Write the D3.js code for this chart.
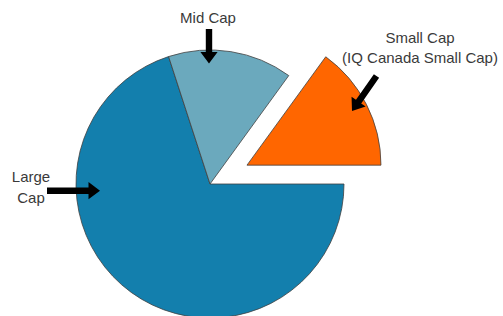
<!DOCTYPE html>
<html><head><meta charset="utf-8">
<script src="https://cdn.jsdelivr.net/npm/d3@7"></script>
<style>html,body{margin:0;padding:0;background:#fff;}svg{display:block;}</style>
</head><body>
<script>
const categories = ["Large Cap", "Mid Cap", "Small Cap"];
const values = [70, 15, 15];
const colors = ["#137FAD", "#6BA9BD", "#FF6600"];
const exploded = [false, false, true];

const W = 503, H = 316;
const cx = 210, cy = 184, R = 134, explode = 41.5;

const svg = d3.select("body").append("svg").attr("width", W).attr("height", H);

const pie = d3.pie().sort(null).startAngle(Math.PI / 2).endAngle(Math.PI / 2 + 2 * Math.PI);
const arcs = pie(values);
const arc = d3.arc().innerRadius(0).outerRadius(R);

const g = svg.append("g").attr("transform", `translate(${cx},${cy})`);
g.selectAll("path").data(arcs).enter().append("path")
  .attr("d", arc)
  .attr("transform", (d, i) => {
    if (!exploded[i]) return null;
    const a = (d.startAngle + d.endAngle) / 2;
    return `translate(${explode * Math.sin(a)},${-explode * Math.cos(a)})`;
  })
  .attr("fill", (d, i) => colors[i])
  .attr("stroke", "#404040")
  .attr("stroke-width", 0.8);

function arrow(x1, y1, x2, y2) {
  const dx = x2 - x1, dy = y2 - y1, L = Math.hypot(dx, dy);
  const ux = dx / L, uy = dy / L, px = -uy, py = ux;
  const hw = 3.2, hh = 8.6, hl = 11.5;
  const bx = x2 - ux * hl, by = y2 - uy * hl;
  const pts = [
    [x1 + px * hw, y1 + py * hw], [bx + px * hw, by + py * hw], [bx + px * hh, by + py * hh],
    [x2, y2],
    [bx - px * hh, by - py * hh], [bx - px * hw, by - py * hw], [x1 - px * hw, y1 - py * hw]
  ];
  svg.append("polygon").attr("points", pts.map(p => p.join(",")).join(" ")).attr("fill", "#000");
}
arrow(209, 29, 209, 63.5);
arrow(376.5, 76, 352, 111);
arrow(47, 190.7, 100, 190.7);

const font = "'Liberation Sans', Arial, sans-serif";
function label(lines, x, y, dy) {
  const t = svg.append("text").attr("font-family", font).attr("font-size", 15)
    .attr("fill", "#3a3a3a").attr("text-anchor", "middle");
  lines.forEach((s, i) => t.append("tspan").attr("x", x).attr("y", y + i * dy).text(s));
}
label(["Mid Cap"], 208, 22.7, 0);
label(["Small Cap", "(IQ Canada Small Cap)"], 420, 43.3, 20);
label(["Large", "Cap"], 31, 181.7, 21.6);
</script>
</body></html>
